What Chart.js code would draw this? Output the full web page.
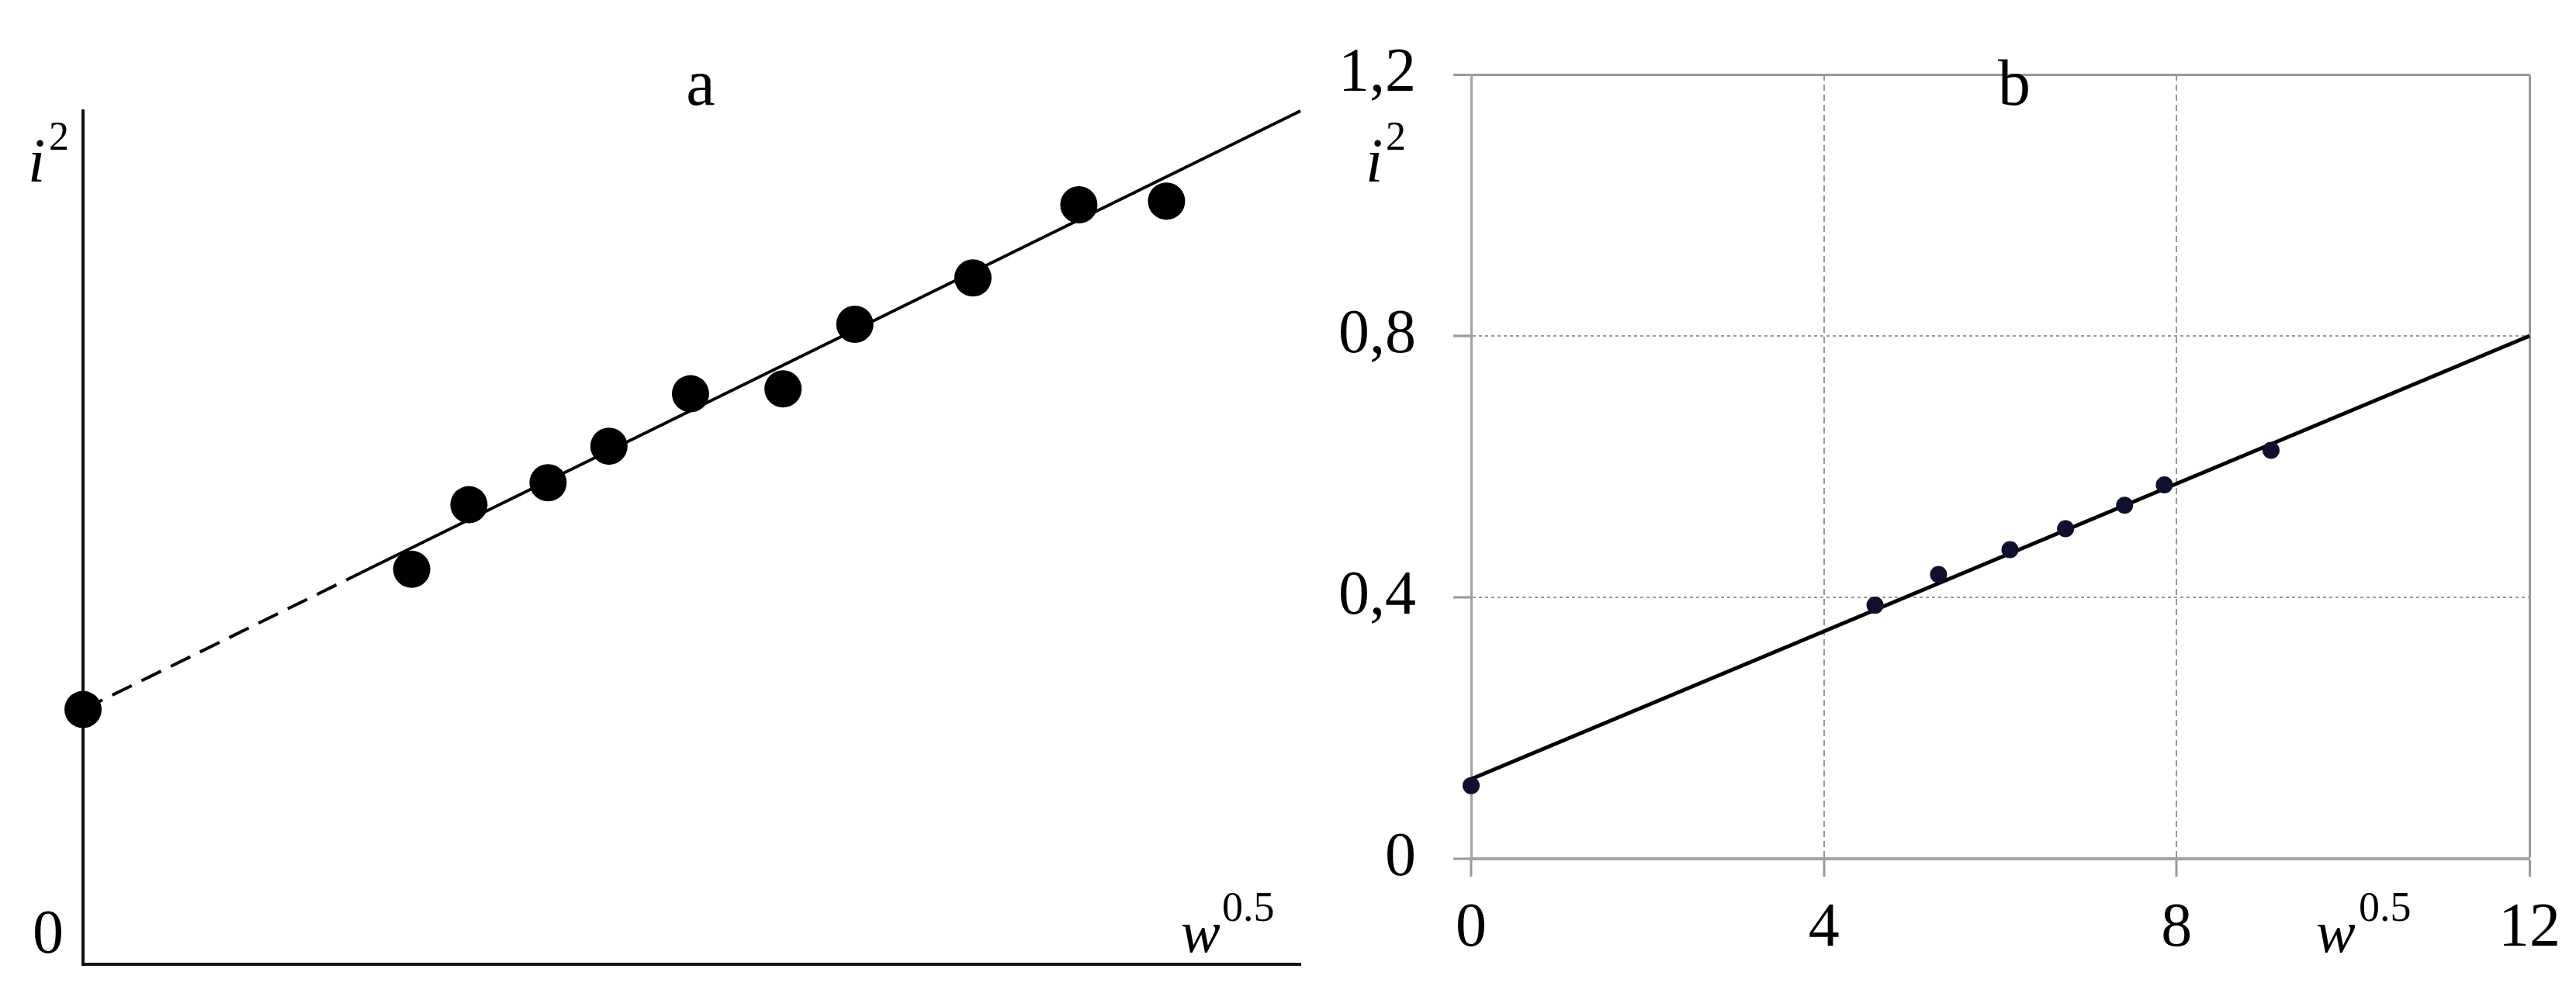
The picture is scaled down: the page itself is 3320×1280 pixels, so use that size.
<!DOCTYPE html>
<html>
<head>
<meta charset="utf-8">
<title>i² against w^0.5</title>
<script src="https://cdn.jsdelivr.net/npm/chart.js@4.4.1/dist/chart.umd.min.js"></script>
<style>
  html, body { margin: 0; padding: 0; background: #fff; }
  body { width: 3320px; height: 1280px; position: relative; overflow: hidden;
         font-family: "Liberation Serif", "Times New Roman", serif; color: #000; }
  canvas { position: absolute; top: 0; }
  #chartA { left: 0; }
  #chartB { left: 1700px; }
  .lbl { position: absolute; line-height: 1; white-space: nowrap; }
  .it { font-style: italic; }
  .c { transform: translateX(-50%); }
</style>
</head>
<body>
<canvas id="chartA" width="1700" height="1280"></canvas>
<canvas id="chartB" width="1620" height="1280"></canvas>

<!-- panel a labels -->
<div class="lbl c" style="left:903px; top:65px; font-size:84px">a</div>
<div class="lbl c" style="left:62px; top:1161px; font-size:80px">0</div>
<div class="lbl it" style="left:36px; top:167px; font-size:80px">i</div>
<div class="lbl" style="left:63px; top:150px; font-size:52px">2</div>
<div class="lbl it" style="left:1522px; top:1163px; font-size:76px">w</div>
<div class="lbl" style="left:1575px; top:1142px; font-size:54px">0.5</div>

<!-- panel b labels -->
<div class="lbl c" style="left:2596px; top:65px; font-size:84px">b</div>
<div class="lbl it" style="left:1760px; top:167px; font-size:80px">i</div>
<div class="lbl" style="left:1786px; top:150px; font-size:52px">2</div>
<div class="lbl it" style="left:2985px; top:1163px; font-size:76px">w</div>
<div class="lbl" style="left:3040px; top:1142px; font-size:54px">0.5</div>

<script>
// panel a: arbitrary units, no ticks
var aPointX = [0, 2.70, 3.17, 3.82, 4.32, 4.99, 5.75, 6.34, 7.31, 8.18, 8.90];
var aPointY = [2.09, 3.24, 3.77, 3.95, 4.25, 4.68, 4.72, 5.25, 5.63, 6.23, 6.26];
var aFitX = [0, 2.28, 10];
var aFitY = [2.09, 3.21, 7.0];

// panel b
var bPointX = [0, 4.58, 5.30, 6.11, 6.74, 7.41, 7.86, 9.07];
var bPointY = [0.112, 0.388, 0.435, 0.473, 0.505, 0.541, 0.572, 0.625];
var bFitX = [0, 12];
var bFitY = [0.122, 0.80];
var bXTicks = [0, 4, 8, 12];
var bXLabels = ['0', '4', '8', '12'];
var bYTicks = [0, 0.4, 0.8, 1.2];
var bYLabels = ['0', '0,4', '0,8', '1,2'];

function pts(xs, ys) {
  return xs.map(function(x, i){ return {x: x, y: ys[i]}; });
}

var tickFont = { family: 'Liberation Serif', size: 80 };
var gridGray = '#999999';

new Chart(document.getElementById('chartA'), {
  type: 'scatter',
  data: {
    datasets: [
      { data: pts(aPointX, aPointY), pointRadius: 24, pointBackgroundColor: '#000', pointBorderWidth: 0, clip: false },
      { data: pts(aFitX, aFitY), showLine: true, borderColor: '#000', borderWidth: 4, pointRadius: 0, clip: false,
        segment: { borderDash: function(ctx){ return ctx.p0DataIndex === 0 ? [28, 14] : undefined; } } }
    ]
  },
  options: {
    responsive: false,
    animation: false,
    events: [],
    layout: { padding: { left: 107, top: 143, right: 11, bottom: 37 } },
    plugins: { legend: { display: false }, tooltip: { enabled: false } },
    scales: {
      x: { type: 'linear', min: 0, max: 10,
           ticks: { display: false },
           grid: { drawOnChartArea: false, drawTicks: false },
           border: { color: '#111', width: 4 } },
      y: { type: 'linear', min: 0, max: 7,
           ticks: { display: false },
           grid: { drawOnChartArea: false, drawTicks: false },
           border: { color: '#111', width: 4 } }
    }
  }
});

new Chart(document.getElementById('chartB'), {
  type: 'scatter',
  data: {
    datasets: [
      { data: pts(bPointX, bPointY), pointRadius: 11, pointBackgroundColor: '#10102e', pointBorderWidth: 0, clip: false },
      { data: pts(bFitX, bFitY), showLine: true, borderColor: '#000', borderWidth: 5, pointRadius: 0, clip: false }
    ]
  },
  options: {
    responsive: false,
    animation: false,
    events: [],
    layout: { padding: { left: 0, top: 64, right: 47, bottom: 0 } },
    plugins: { legend: { display: false }, tooltip: { enabled: false } },
    scales: {
      x: { type: 'linear', min: 0, max: 12,
           afterBuildTicks: function(s){ s.ticks = bXTicks.map(function(v){ return {value: v}; }); },
           afterFit: function(s){ s.height = 173; },
           ticks: { font: tickFont, color: '#000', padding: 20, maxRotation: 0, autoSkip: false,
                    callback: function(v, i){ return bXLabels[i]; } },
           grid: { color: gridGray, tickColor: gridGray, tickLength: 23, tickWidth: 3,
                   lineWidth: function(c){ return c.tick && c.tick.value === 12 ? 3 : 2; } },
           border: { color: '#a3a3a3', width: 4,
                     dash: function(c){ return (c.tick && c.tick.value > 0 && c.tick.value < 12) ? [8, 5] : []; } } },
      y: { type: 'linear', min: 0, max: 1.2,
           afterBuildTicks: function(s){ s.ticks = bYTicks.map(function(v){ return {value: v}; }); },
           afterFit: function(s){ s.width = 196; },
           ticks: { font: tickFont, color: '#000', padding: 48, autoSkip: false,
                    callback: function(v, i){ return bYLabels[i]; } },
           grid: { color: gridGray, tickColor: gridGray, tickLength: 23, tickWidth: 3,
                   lineWidth: function(c){ return c.tick && c.tick.value === 1.2 ? 3 : 2; } },
           border: { color: '#a3a3a3', width: 3,
                     dash: function(c){ return (c.tick && c.tick.value > 0 && c.tick.value < 1.2) ? [4, 4] : []; } } }
    }
  }
});
</script>
</body>
</html>
